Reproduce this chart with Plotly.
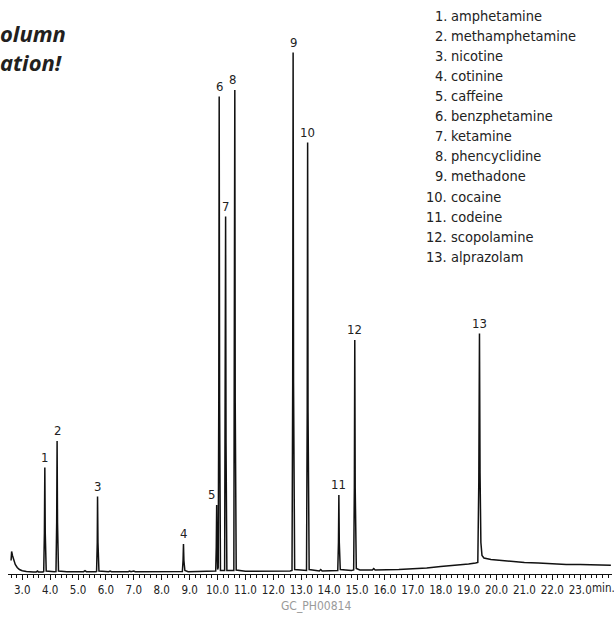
import plotly.graph_objects as go

# ---- data (time in min, detector response in arbitrary units) ----
trace_time = [
    2.60, 2.62, 2.65, 2.70, 2.75, 2.82, 2.90, 3.00, 3.15, 3.40, 3.50, 3.55, 3.58, 3.74,
    3.77, 3.795, 3.81, 3.825, 3.86, 4.15,
    4.21, 4.235, 4.25, 4.265, 4.30,
    4.60, 5.20, 5.25, 5.30, 5.64,
    5.665, 5.69, 5.70, 5.715, 5.75,
    6.10, 6.15, 6.20, 6.80, 6.85, 6.90, 7.00, 7.05, 8.70,
    8.74, 8.765, 8.78, 8.795, 8.83, 8.95,
    9.50, 9.70, 9.90,
    9.935, 9.955, 9.97, 9.985, 10.005,
    10.025, 10.045, 10.06, 10.075, 10.105,
    10.255, 10.275, 10.29, 10.305, 10.335,
    10.585, 10.605, 10.62, 10.635, 10.67,
    11.00, 12.00, 12.50, 12.60,
    12.67, 12.695, 12.71, 12.725, 12.765,
    13.19, 13.215, 13.23, 13.245, 13.285,
    13.65, 13.70, 13.75, 14.25,
    14.31, 14.335, 14.35, 14.365, 14.40,
    14.80,
    14.88, 14.905, 14.92, 14.935, 14.975, 15.10,
    15.55, 15.60, 15.65, 16.50, 17.00, 17.50, 18.00, 18.50, 19.00, 19.25,
    19.33, 19.365, 19.39, 19.41, 19.44, 19.48, 19.55, 19.80, 20.00, 20.50,
    21.00, 21.50, 22.00, 22.50, 23.00, 23.50, 24.00, 24.10,
]
trace_signal = [
    12, 21, 17, 12, 8, 5, 3, 1.8, 1, 0.5, 0.6, 1.5, 0.5, 0.5,
    1, 40, 105, 40, 1.5, 0.8,
    1, 50, 131.5, 50, 1.5,
    0.8, 0.8, 1.8, 0.8, 0.8,
    1, 30, 76, 30, 1.5,
    0.8, 1.5, 0.8, 0.8, 1.5, 0.8, 1.5, 0.8, 0.8,
    1, 12, 28.5, 12, 2, 0.8,
    1.0, 1.5, 1.2,
    1.5, 25, 67.5, 25, 3,
    5, 170, 476, 170, 2,
    2, 130, 356, 130, 2,
    2, 170, 482.5, 170, 2.5,
    1.2, 1.0, 1.3, 1.5,
    2, 190, 520, 190, 3,
    2, 160, 430, 160, 3,
    1.5, 3, 1.5, 1.8,
    2, 30, 77.5, 30, 3,
    2,
    2.5, 85, 232.5, 85, 4, 2.5,
    2.5, 4, 2.5, 3, 3.5, 4.5, 6, 7, 8.5, 9.5,
    10, 90, 239, 100, 30, 17, 14.5, 13, 12.5, 11,
    10, 9.5, 8.5, 8, 8, 7.5, 7.5, 7.3,
]

peak_labels = ["1", "2", "3", "4", "5", "6", "7", "8", "9", "10", "11", "12", "13"]
peak_times = [3.81, 4.25, 5.70, 8.78, 9.97, 10.06, 10.29, 10.62, 12.71, 13.23, 14.35, 14.92, 19.39]
peak_heights = [105, 131.5, 76, 28.5, 67.5, 476, 356, 482.5, 520, 430, 77.5, 232.5, 239]

compound_names = [
    "amphetamine", "methamphetamine", "nicotine", "cotinine", "caffeine",
    "benzphetamine", "ketamine", "phencyclidine", "methadone", "cocaine",
    "codeine", "scopolamine", "alprazolam",
]

headline_lines = ["olumn", "ation!"]

tick_values = [3, 4, 5, 6, 7, 8, 9, 10, 11, 12, 13, 14, 15, 16, 17, 18, 19, 20, 21, 22, 23]
tick_labels = ["3.0", "4.0", "5.0", "6.0", "7.0", "8.0", "9.0", "10.0", "11.0", "12.0",
               "13.0", "14.0", "15.0", "16.0", "17.0", "18.0", "19.0", "20.0", "21.0",
               "22.0", "23.0"]

# ---- layout geometry ----
W, H = 614, 631
ML, MR, MT, MB = 8, 2, 20, 57
PW, PH = W - ML - MR, H - MT - MB

def px_x(px):
    return (px - ML) / PW

def px_y(py):
    return (H - MB - py) / PH

NARROW = "DejaVu Sans Condensed, Liberation Sans Narrow, Roboto, sans-serif"

fig = go.Figure()
fig.add_trace(go.Scatter(
    x=trace_time, y=trace_signal, mode="lines",
    line=dict(color="#111111", width=1.5),
    hoverinfo="skip", showlegend=False,
))

annotations = []
label_shift = {"5": -5, "8": -2}
for lab, t, h in zip(peak_labels, peak_times, peak_heights):
    annotations.append(dict(
        x=t, y=h, xref="x", yref="y", text=lab, showarrow=False,
        xanchor="center", yanchor="bottom", yshift=1, xshift=label_shift.get(lab, 0),
        font=dict(family=NARROW, size=13, color="#222222"),
    ))

# compound list (top right)
for i, (lab, name) in enumerate(zip(peak_labels, compound_names)):
    yc = 16 + 20.06 * i
    annotations.append(dict(
        x=px_x(449), y=px_y(yc), xref="paper", yref="paper", text=lab + ".",
        showarrow=False, xanchor="right", yanchor="middle",
        font=dict(family=NARROW, size=14.5, color="#222222"),
    ))
    annotations.append(dict(
        x=px_x(449), y=px_y(yc), xref="paper", yref="paper", text=name,
        showarrow=False, xanchor="left", yanchor="middle",
        font=dict(family=NARROW, size=14.5, color="#222222"),
    ))

# cut-off headline at top left (one two-line text block)
annotations.append(dict(
    x=px_x(-2), y=px_y(47), xref="paper", yref="paper", text="<br>".join(headline_lines),
    showarrow=False, xanchor="left", yanchor="middle", align="left",
    font=dict(family="Open Sans, Noto Sans, sans-serif", size=22, color="#231f20",
              weight="bold", style="italic"),
))

# axis unit
annotations.append(dict(
    x=px_x(590), y=px_y(588), xref="paper", yref="paper", text="min.",
    showarrow=False, xanchor="left", yanchor="middle",
    font=dict(family=NARROW, size=11.5, color="#222222"),
))

# figure code
annotations.append(dict(
    x=px_x(316), y=px_y(606), xref="paper", yref="paper", text="GC_PH00814",
    showarrow=False, xanchor="center", yanchor="middle",
    font=dict(family=NARROW, size=12, color="#9a9a9a"),
))

fig.update_layout(
    width=W, height=H,
    margin=dict(l=ML, r=MR, t=MT, b=MB, pad=0),
    paper_bgcolor="white", plot_bgcolor="white",
    annotations=annotations,
    xaxis=dict(
        range=[2.49, 24.14], showgrid=False, zeroline=False,
        showline=True, linecolor="#111111", linewidth=1,
        tickmode="array", tickvals=tick_values, ticktext=tick_labels,
        ticks="outside", ticklen=5, tickwidth=1, tickcolor="#111111",
        tickfont=dict(family=NARROW, size=11.5, color="#222222"),
        minor=dict(dtick=0.2, tick0=3, ticks="outside", ticklen=3, tickwidth=1,
                   tickcolor="#111111", showgrid=False),
        fixedrange=True,
    ),
    yaxis=dict(
        range=[-1.5, 552.5], visible=False, showgrid=False, zeroline=False,
        fixedrange=True,
    ),
)

# remove the browser's default 8px body margin so the figure sits at the window's corner
fig.write_html("out.html", config={"displayModeBar": False, "staticPlot": True},
               post_script="document.body.style.margin='0';")
